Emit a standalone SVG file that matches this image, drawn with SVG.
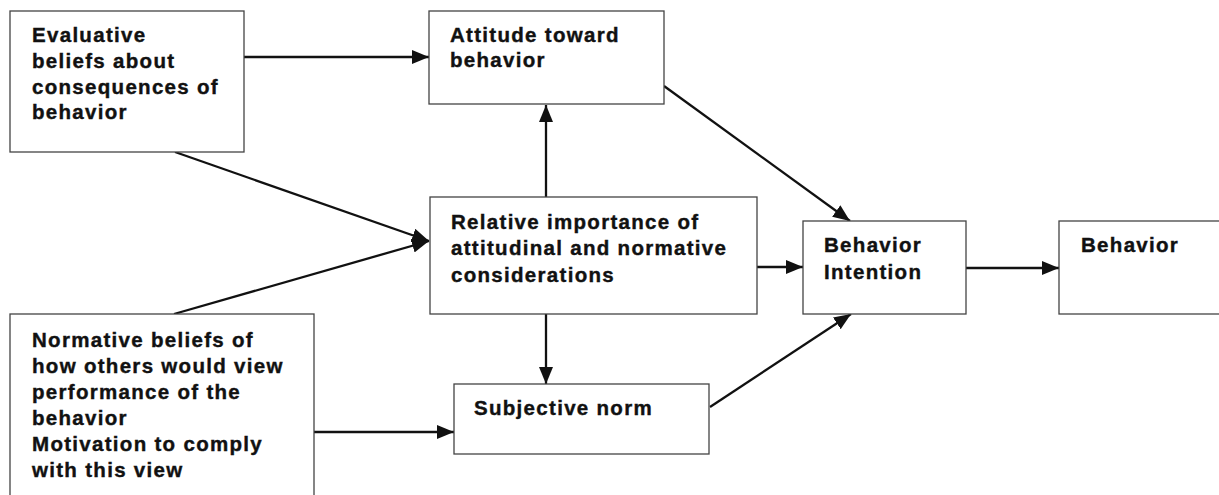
<svg xmlns="http://www.w3.org/2000/svg" width="1219" height="495" viewBox="0 0 1219 495">
<style>
.box{fill:#fff;stroke:#444;stroke-width:1.3}
.t{font-family:"Liberation Sans",Arial,sans-serif;font-weight:bold;font-size:20.5px;letter-spacing:1.3px;fill:#111;stroke:#111;stroke-width:0.4}
.c{stroke:#111;stroke-width:2.3;fill:none;marker-end:url(#ah)}
</style>
<defs>
<marker id="ah" markerWidth="17" markerHeight="14" refX="17" refY="7" orient="auto" markerUnits="userSpaceOnUse">
<path d="M0,0 L17,7 L0,14 Z" fill="#111"/>
</marker>
</defs>
<rect width="1219" height="495" fill="#fff"/>
<g id="connectors">
<line class="c" x1="244" y1="57" x2="429" y2="57"/>
<line class="c" x1="546" y1="197" x2="546" y2="105"/>
<line class="c" x1="664" y1="86" x2="850" y2="221"/>
<line class="c" x1="175" y1="152" x2="429" y2="241"/>
<line class="c" x1="174" y1="314" x2="429" y2="241"/>
<line class="c" x1="757" y1="267" x2="803" y2="267"/>
<line class="c" x1="966" y1="268" x2="1059" y2="268"/>
<line class="c" x1="546" y1="314" x2="546" y2="384"/>
<line class="c" x1="314" y1="432" x2="454" y2="432"/>
<line class="c" x1="710" y1="407" x2="851" y2="314"/>
</g>
<g id="evaluative">
<rect class="box" x="10" y="11" width="234" height="141"/>
<text class="t" x="32" y="42">Evaluative</text>
<text class="t" x="32" y="68">beliefs about</text>
<text class="t" x="32" y="94">consequences of</text>
<text class="t" x="32" y="119">behavior</text>
</g>
<g id="attitude">
<rect class="box" x="429" y="11" width="235" height="93"/>
<text class="t" x="450" y="42">Attitude toward</text>
<text class="t" x="450" y="67">behavior</text>
</g>
<g id="relative">
<rect class="box" x="430" y="197" width="327" height="117"/>
<text class="t" x="451" y="229">Relative importance of</text>
<text class="t" x="451" y="255">attitudinal and normative</text>
<text class="t" x="451" y="282">considerations</text>
</g>
<g id="intention">
<rect class="box" x="803" y="221" width="163" height="93"/>
<text class="t" x="824" y="252">Behavior</text>
<text class="t" x="824" y="279">Intention</text>
</g>
<g id="behavior">
<rect class="box" x="1059" y="221" width="170" height="93"/>
<text class="t" x="1081" y="252">Behavior</text>
</g>
<g id="normative">
<rect class="box" x="10" y="314" width="304" height="200"/>
<text class="t" x="32" y="347">Normative beliefs of</text>
<text class="t" x="32" y="373">how others would view</text>
<text class="t" x="32" y="399">performance of the</text>
<text class="t" x="32" y="425">behavior</text>
<text class="t" x="32" y="451">Motivation to comply</text>
<text class="t" x="32" y="477">with this view</text>
</g>
<g id="subjective">
<rect class="box" x="454" y="384" width="255" height="70"/>
<text class="t" x="474" y="415">Subjective norm</text>
</g>
</svg>
